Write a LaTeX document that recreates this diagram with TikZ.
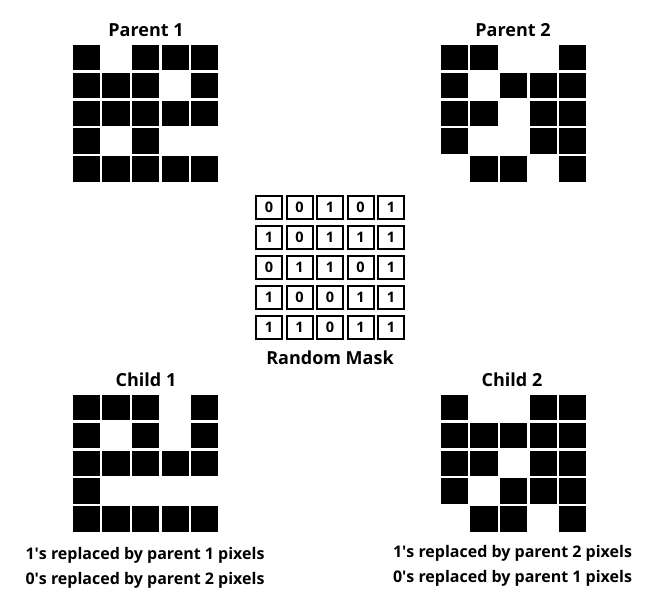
\documentclass[tikz,border=0pt]{standalone}
\usepackage{fontspec}
\setmainfont{Open Sans}
\usetikzlibrary{positioning}

% one 5x5 pixel image: left, top, rows of 0/1
\newcommand{\pixelgrid}[3]{%
  \foreach \row [count=\r from 0] in {#3} {
    \foreach \v [count=\c from 0] in \row {
      \ifnum\v=1
        \fill[pixel] ({#1+\c*29.6},{#2+\r*27.8}) rectangle ++(27.2,25.4);
      \fi
    }
  }%
}

\begin{document}
\begin{tikzpicture}[
  x=1pt, y=-1pt,
  pixel/.style={black},
  maskcell/.style={rectangle, draw=black, line width=2pt, inner sep=0pt,
                   minimum width=26pt, minimum height=23pt,
                   font=\bfseries\fontsize{14.5}{14.5}\selectfont},
  title/.style={font=\bfseries\fontsize{18}{18}\selectfont, inner sep=0pt},
  note/.style={font=\bfseries\fontsize{16}{16}\selectfont, inner sep=0pt}
]
  \useasboundingbox (0,0) rectangle (653,604);

  % parents
  \node[title] (p1title) at (146,30) {Parent 1};
  \node[title] (p2title) at (513,30) {Parent 2};
  \pixelgrid{72.7}{45}{{1,0,1,1,1},{1,1,1,0,1},{1,1,1,1,1},{1,0,1,0,0},{1,1,1,1,1}}
  \pixelgrid{440.7}{45}{{1,1,0,0,1},{1,0,1,1,1},{1,1,0,1,1},{1,0,0,1,1},{0,1,1,0,1}}

  % random mask
  \foreach \row [count=\r from 0] in {{0,0,1,0,1},{1,0,1,1,1},{0,1,1,0,1},{1,0,0,1,1},{1,1,0,1,1}} {
    \foreach \v [count=\c from 0] in \row {
      \node[maskcell] (m\r\c) at ({269+\c*30.5},{207.5+\r*30}) {\v};
    }
  }
  \node[title] (masktitle) at (330,358) {Random Mask};

  % children
  \node[title] (c1title) at (146,380) {Child 1};
  \node[title] (c2title) at (512,380) {Child 2};
  \pixelgrid{72.7}{395}{{1,1,1,0,1},{1,0,1,0,1},{1,1,1,1,1},{1,0,0,0,0},{1,1,1,1,1}}
  \pixelgrid{440.7}{395}{{1,0,0,1,1},{1,1,1,1,1},{1,1,0,1,1},{1,0,1,1,1},{0,1,1,0,1}}

  \node[note] (c1ones) at (145,555) {1\textquotesingle s replaced by parent 1 pixels};
  \node[note] (c1zeros) at (145,580) {0\textquotesingle s replaced by parent 2 pixels};
  \node[note] (c2ones) at (512.5,553) {1\textquotesingle s replaced by parent 2 pixels};
  \node[note] (c2zeros) at (512.5,578) {0\textquotesingle s replaced by parent 1 pixels};
\end{tikzpicture}
\end{document}
